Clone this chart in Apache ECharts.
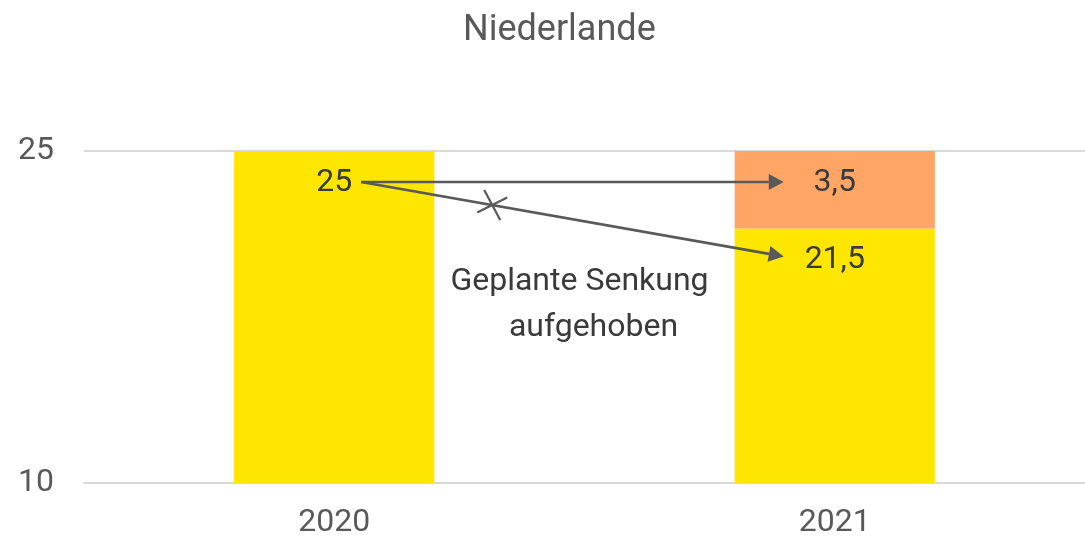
<!DOCTYPE html>
<html>
<head>
<meta charset="utf-8">
<script src="https://cdn.jsdelivr.net/npm/echarts@6/dist/echarts.min.js"></script>
<style>
  html, body { margin: 0; padding: 0; background: #fff; }
  #chart { width: 1085px; height: 539px; }
</style>
</head>
<body>
<div id="chart"></div>
<script>
// 数据
const years = ['2020', '2021'];
const baseRate = [25, 21.5];      // 黄色
const addedRate = [null, 3.5];    // 橙色
const yTicks = [10, 25];
const noteLines = ['Geplante Senkung', 'aufgehoben'];

const grey = '#595959';
const dark = '#3a3a3a';
const fontFam = 'Roboto, "Noto Sans", sans-serif';
const fmt = (p) => String(p.value).replace('.', ',');

let myChart = echarts.init(document.getElementById('chart'));
let option = {
  animation: false,
  title: {
    text: 'Niederlande',
    left: 458,
    top: 8,
    textStyle: { color: grey, fontSize: 36, fontWeight: 'normal', fontFamily: fontFam }
  },
  grid: { left: 84, right: 0, top: 151, bottom: 56, outerBoundsMode: 'none' },
  xAxis: {
    type: 'category',
    data: years,
    axisLine: { show: true, lineStyle: { color: '#d9d9d9', width: 2 } },
    axisTick: { show: false },
    axisLabel: { color: grey, fontSize: 32, margin: 24, fontFamily: fontFam }
  },
  yAxis: {
    type: 'value',
    min: 10,
    max: 25,
    axisLine: { show: false },
    axisTick: { show: false, customValues: yTicks },
    axisLabel: { color: grey, fontSize: 32, margin: 30, fontFamily: fontFam, customValues: yTicks },
    splitLine: { show: true, lineStyle: { color: '#d9d9d9', width: 2 } }
  },
  series: [
    {
      name: 'Basis',
      type: 'bar',
      stack: 'a',
      barWidth: '40%',
      data: baseRate,
      itemStyle: { color: '#ffe600' },
      label: { show: true, position: 'insideTop', distance: 16, color: dark, fontSize: 32, fontFamily: fontFam, formatter: fmt }
    },
    {
      name: 'Zusatz',
      type: 'bar',
      stack: 'a',
      barWidth: '40%',
      data: addedRate,
      itemStyle: { color: '#ffa566' },
      label: { show: true, position: 'insideTop', distance: 16, color: dark, fontSize: 32, fontFamily: fontFam, formatter: fmt }
    }
  ]
};
myChart.setOption(option);

// 箭头和说明文字
function arrow(x1, y1, x2, y2) {
  const ang = Math.atan2(y2 - y1, x2 - x1);
  const len = 15, half = 8;
  const bx = x2 - len * Math.cos(ang), by = y2 - len * Math.sin(ang);
  const px = -Math.sin(ang) * half, py = Math.cos(ang) * half;
  return [
    { type: 'line', z: 100, shape: { x1: x1, y1: y1, x2: bx, y2: by }, style: { stroke: grey, lineWidth: 2.7 } },
    { type: 'polygon', z: 100, shape: { points: [[x2, y2], [bx + px, by + py], [bx - px, by - py]] }, style: { fill: grey } }
  ];
}
function drawNotes() {
  const p20 = myChart.convertToPixel({ xAxisIndex: 0, yAxisIndex: 0 }, [years[0], baseRate[0]]);
  const p21 = myChart.convertToPixel({ xAxisIndex: 0, yAxisIndex: 0 }, [years[1], baseRate[1]]);
  const sx = p20[0] + 27, sy = p20[1] + 31;
  const ex = p21[0] - 51;
  const ey1 = sy, ey2 = p21[1] + 28;
  const t = 0.31;
  const cx = sx + (ex - sx) * t, cy = sy + (ey2 - sy) * t;
  const mid = p20[0] + (p21[0] - p20[0]) * 0.49;
  const els = [].concat(
    arrow(sx, sy, ex, ey1),
    arrow(sx, sy, ex, ey2),
    [
      { type: 'line', z: 100, shape: { x1: cx - 15, y1: cy + 7.5, x2: cx + 15, y2: cy - 7.5 }, style: { stroke: grey, lineWidth: 2.2 } },
      { type: 'line', z: 100, shape: { x1: cx - 8, y1: cy - 15, x2: cx + 8, y2: cy + 15 }, style: { stroke: grey, lineWidth: 2.2 } },
      { type: 'text', z: 100, x: mid, y: p20[1] + 131, style: { text: noteLines[0], fill: dark, font: '32px ' + fontFam, align: 'center', verticalAlign: 'middle' } },
      { type: 'text', z: 100, x: mid + 14, y: p20[1] + 177, style: { text: noteLines[1], fill: dark, font: '32px ' + fontFam, align: 'center', verticalAlign: 'middle' } }
    ]
  );
  myChart.setOption({ graphic: { elements: els } });
}
drawNotes();

window.addEventListener('resize', function () {
  myChart.resize();
  drawNotes();
});
</script>
</body>
</html>
